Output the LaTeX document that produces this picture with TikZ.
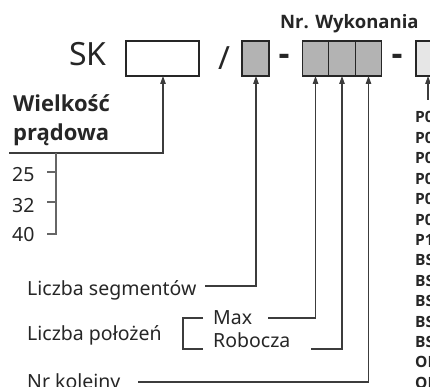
\documentclass[tikz,border=0pt]{standalone}
\usepackage{fontspec}
\setmainfont{Noto Sans}
\newfontfamily\osans{Open Sans}
\usetikzlibrary{arrows.meta}
\definecolor{ink}{HTML}{262626}
\definecolor{boxg}{HTML}{B3B3B3}
\definecolor{boxl}{HTML}{E6E6E6}
\definecolor{lineg}{HTML}{3C3C3C}
\begin{document}
\begin{tikzpicture}[x=1pt,y=-1pt,
  lbl/.style={inner sep=0, anchor=base west, text=ink, font=\fontsize{19.5}{19.5}\selectfont},
  blbl/.style={lbl, font=\osans\fontsize{22}{22}\selectfont\bfseries},
  codelbl/.style={lbl, font=\osans\fontsize{15.5}{15.5}\selectfont\bfseries},
  cell/.style={draw=ink, line width=1.2pt, minimum height=35pt, minimum width=26.5pt, inner sep=0, outer sep=0},
  conn/.style={draw=lineg, line width=1.1pt, -{Triangle[length=8pt,width=5.5pt]}},
  plain/.style={draw=lineg, line width=1.1pt},
  tick/.style={draw=gray!80!black, line width=1.1pt},
  dashbar/.style={inner sep=0, text=ink, font=\osans\fontsize{34}{34}\selectfont\bfseries}]
\useasboundingbox (0,0) rectangle (430,387);
% header
\node[lbl, font=\osans\fontsize{18.5}{18.5}\selectfont\bfseries] (hdr) at (280,28.3) {Nr. Wykonania};
\node[lbl, anchor=base east, font=\fontsize{32}{32}\selectfont] (sk) at (107,66) {SK};
% boxes
\node[cell, fill=white, minimum width=73pt] (b1) at (162.5,58.5) {};
\node[inner sep=0, text=ink, font=\fontsize{32}{32}\selectfont] (sl) at (224,58.5) {/};
\node[cell, fill=boxg, minimum width=27pt] (b2) at (255.5,58.5) {};
\node[dashbar] (d1) at (284,60) {-};
\node[cell, fill=boxg] (b3) at (315.5,58.5) {};
\node[cell, fill=boxg] (b4) at (342,58.5) {};
\node[cell, fill=boxg] (b5) at (368.5,58.5) {};
\node[dashbar] (d2) at (397,60) {-};
\node[cell, fill=boxl, minimum width=27pt] (b6) at (429.5,58.5) {};
% left labels
\node[blbl] (w1) at (13,112) {Wielkość};
\node[blbl] (w2) at (13,141) {prądowa};
\node[lbl] (n25) at (12,182) {25};
\node[lbl] (n32) at (12,212) {32};
\node[lbl] (n40) at (12,241) {40};
\node[lbl] (ls) at (27,295) {Liczba segmentów};
\node[lbl] (lp) at (27,340) {Liczba położeń};
\node[lbl] (mx) at (213,324) {Max};
\node[lbl] (rb) at (213,347) {Robocza};
\node[lbl] (nk) at (27,388) {Nr kolejny};
% right code column
\foreach \t [count=\i from 0] in {P0,P0,P0,P0,P0,P0,P1,BS,BS,BS,BS,BS,OI,OI}
  \node[codelbl] (c\i) at (415,{123+20.4*\i}) {\t};
% connector coordinates
\coordinate (a1) at (9,153);
\coordinate (a2) at (163,153);
\coordinate (s1) at (205,286);
\coordinate (s2) at (256,286);
\coordinate (m1) at (268,318);
\coordinate (m2) at (315.5,318);
\coordinate (r1) at (311,349);
\coordinate (r2) at (342,349);
\coordinate (k1) at (138,382);
\coordinate (k2) at (368.5,382);
\coordinate (p1) at (428,100);
\coordinate (v1) at (56,153);
\coordinate (v2) at (56,234);
\coordinate (t1) at (47,172);
\coordinate (t2) at (47,202);
\coordinate (t3) at (47,234);
\coordinate (q1) at (203,318);
\coordinate (q2) at (183,318);
\coordinate (q3) at (183,349);
\coordinate (q4) at (203,349);
% connectors
\draw[conn] (a1) -- (a2) -- (a2 |- b1.south);
\draw[conn] (s1) -- (s2) -- (s2 |- b2.south);
\draw[conn] (m1) -- (m2) -- (m2 |- b3.south);
\draw[conn] (r1) -- (r2) -- (r2 |- b4.south);
\draw[conn] (k1) -- (k2) -- (k2 |- b5.south);
\draw[conn] (p1) -- (p1 |- b6.south);
\draw[tick] (v1) -- (v2) -- (t3);
\draw[tick] (t1) -- (t1 -| v1);
\draw[tick] (t2) -- (t2 -| v1);
\draw[plain] (q1) -- (q2) -- (q3) -- (q4);
\end{tikzpicture}
\end{document}
